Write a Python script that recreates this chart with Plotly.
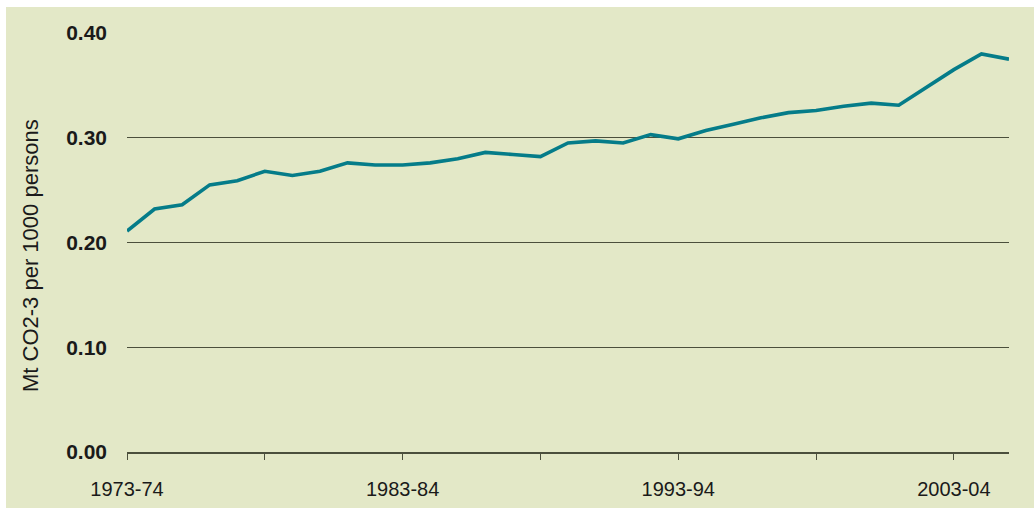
import plotly.graph_objects as go

# Financial years 1973-74 .. 2005-06
years = [f"{y}-{str(y + 1)[-2:]}" for y in range(1973, 2006)]
emissions = [
    0.211, 0.232, 0.236, 0.255, 0.259, 0.268, 0.264, 0.268, 0.276, 0.274,
    0.274, 0.276, 0.280, 0.286, 0.284, 0.282, 0.295, 0.297, 0.295, 0.303,
    0.299, 0.307, 0.313, 0.319, 0.324, 0.326, 0.330, 0.333, 0.331, 0.348,
    0.365, 0.380, 0.375,
]
tick_labels = ["1973-74", "", "1983-84", "", "1993-94", "", "2003-04"]
y_ticks = [0.0, 0.1, 0.2, 0.3, 0.4]
y_title = "Mt CO2-3 per 1000 persons"

BG = "#e3e8c7"
GRID = "#4b4f3c"
LINE = "#057c89"
TEXT = "#1a1a1a"
FONT = "Liberation Sans, Arial, sans-serif"

x_idx = list(range(len(years)))
tick_pos = [years.index(t) if t else 5 * i for i, t in enumerate(tick_labels)]

fig = go.Figure()
fig.add_trace(go.Scatter(
    x=x_idx, y=emissions, mode="lines",
    line=dict(color=LINE, width=3.6),
    hovertext=years, hoverinfo="text+y",
))

W, H = 1034, 518
ml, mr, mt, mb = 127, 25, 33, 66
pw, ph = W - ml - mr, H - mt - mb


def px_to_paper_x(px):
    return (px - ml) / pw


def px_to_paper_y(py):
    return (H - mb - py) / ph


# light green panel behind the whole chart, leaving a thin white border
fig.add_shape(
    type="rect", xref="paper", yref="paper", layer="below",
    x0=px_to_paper_x(6), x1=px_to_paper_x(W + 5),
    y0=px_to_paper_y(508), y1=px_to_paper_y(7),
    fillcolor=BG, line=dict(width=0),
)

fig.add_annotation(
    text=y_title, textangle=-90, showarrow=False,
    xref="paper", yref="paper",
    x=px_to_paper_x(30), y=px_to_paper_y(256),
    xanchor="center", yanchor="middle",
    font=dict(family=FONT, size=22, color=TEXT),
)

fig.update_layout(
    width=W, height=H,
    margin=dict(l=ml, r=mr, t=mt, b=mb, pad=0),
    paper_bgcolor="white", plot_bgcolor=BG,
    showlegend=False,
    xaxis=dict(
        range=[0, len(years) - 1],
        tickmode="array", tickvals=tick_pos, ticktext=tick_labels,
        ticks="outside", ticklen=6, tickwidth=1, tickcolor=GRID,
        showgrid=False, zeroline=False,
        showline=True, linecolor=GRID, linewidth=1.5,
        tickfont=dict(family=FONT, size=20, color=TEXT),
        ticklabelstandoff=12,
    ),
    yaxis=dict(
        range=[0, 0.4],
        tickmode="array", tickvals=y_ticks,
        ticktext=[f"<b>{v:.2f}</b>" for v in y_ticks],
        showgrid=True, gridcolor=GRID, gridwidth=1.2,
        zeroline=False, showline=False, ticks="",
        tickfont=dict(family=FONT, size=21, color=TEXT),
        ticklabelstandoff=19,
    ),
)

fig.write_html("out.html")
